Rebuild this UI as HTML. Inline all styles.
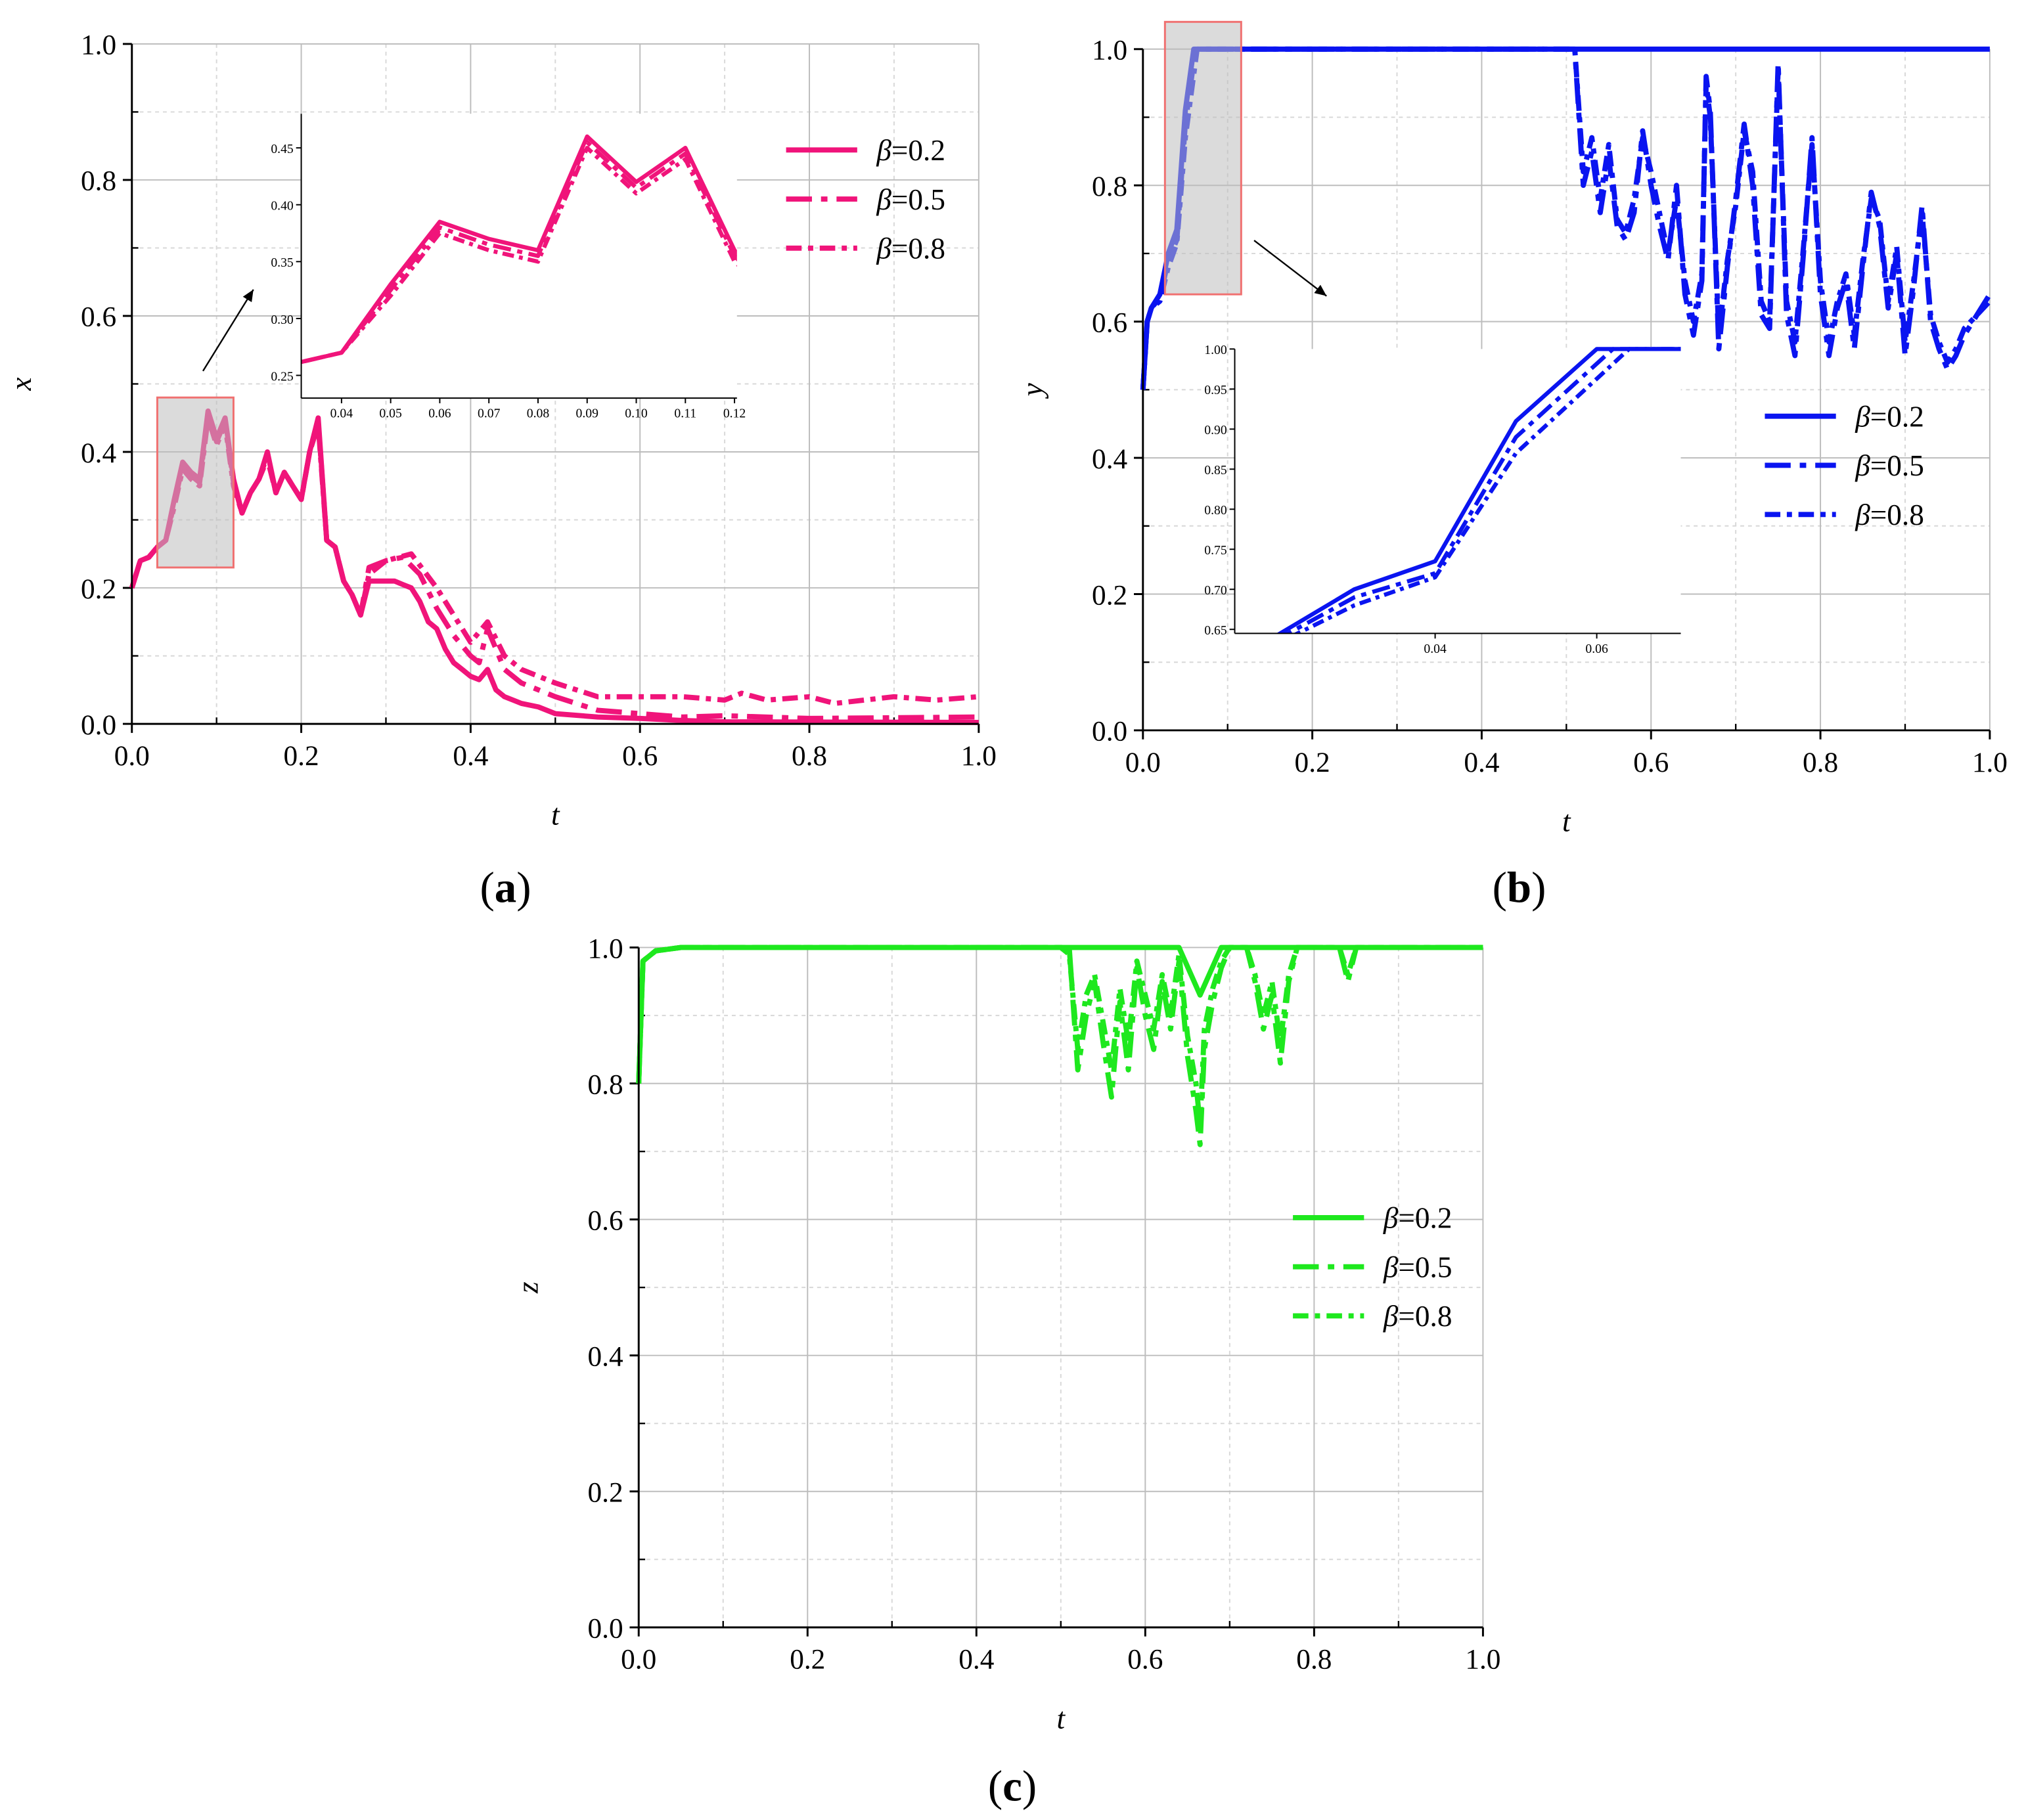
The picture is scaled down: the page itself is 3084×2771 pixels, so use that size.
<!DOCTYPE html>
<html><head><meta charset="utf-8">
<style>html,body{margin:0;padding:0;background:#fff}svg{display:block}text{font-family:"Liberation Serif",serif}</style></head>
<body>
<svg id="fig" width="3084" height="2771" viewBox="0 0 1567 1408" preserveAspectRatio="none" xmlns="http://www.w3.org/2000/svg" font-family="'Liberation Serif', serif"></svg>
<script>
// ---- data ----
const xT02=[0,0.01,0.02,0.03,0.04,0.05,0.06,0.07,0.08,0.09,0.10,0.11,0.12,0.13,0.14,0.15,0.16,0.17,0.18,0.19,0.20,0.21,0.22,0.23,0.24,0.25,0.26,0.27,0.28,0.29,0.30,0.31,0.32,0.33,0.34,0.35,0.36,0.37,0.38,0.39,0.40,0.41,0.42,0.43,0.44,0.45,0.46,0.48,0.50,0.55,0.60,0.65,0.70,1.0];
const xV02=[0.2,0.24,0.245,0.26,0.27,0.33,0.385,0.37,0.36,0.46,0.42,0.45,0.36,0.31,0.34,0.36,0.40,0.34,0.37,0.35,0.33,0.40,0.45,0.27,0.26,0.21,0.19,0.16,0.21,0.21,0.21,0.21,0.205,0.20,0.18,0.15,0.14,0.11,0.09,0.08,0.07,0.065,0.08,0.05,0.04,0.035,0.03,0.025,0.015,0.01,0.008,0.005,0.003,0.002];
const xT05=[0,0.01,0.02,0.03,0.04,0.05,0.06,0.07,0.08,0.09,0.10,0.11,0.12,0.13,0.14,0.15,0.16,0.17,0.18,0.19,0.20,0.21,0.22,0.23,0.24,0.25,0.26,0.27,0.28,0.30,0.32,0.34,0.36,0.38,0.40,0.41,0.42,0.44,0.46,0.50,0.55,0.60,0.65,0.70,0.80,1.0];
const xV05=[0.2,0.24,0.245,0.26,0.27,0.325,0.38,0.365,0.355,0.455,0.415,0.445,0.355,0.31,0.34,0.36,0.395,0.34,0.37,0.35,0.33,0.40,0.445,0.27,0.26,0.21,0.19,0.16,0.23,0.24,0.245,0.22,0.17,0.13,0.10,0.09,0.14,0.08,0.06,0.04,0.02,0.015,0.01,0.012,0.008,0.01];
const xT08=[0,0.01,0.02,0.03,0.04,0.05,0.06,0.07,0.08,0.09,0.10,0.11,0.12,0.13,0.14,0.15,0.16,0.17,0.18,0.19,0.20,0.21,0.22,0.23,0.24,0.25,0.26,0.27,0.28,0.30,0.33,0.36,0.38,0.40,0.42,0.44,0.46,0.50,0.55,0.60,0.65,0.70,0.72,0.75,0.80,0.83,0.90,0.95,1.0];
const xV08=[0.2,0.24,0.245,0.26,0.27,0.32,0.375,0.36,0.35,0.45,0.41,0.44,0.35,0.31,0.34,0.36,0.39,0.34,0.37,0.35,0.33,0.40,0.44,0.27,0.26,0.21,0.19,0.16,0.22,0.24,0.25,0.20,0.16,0.12,0.15,0.10,0.08,0.06,0.04,0.04,0.04,0.035,0.045,0.035,0.04,0.03,0.04,0.035,0.04];

const yT02=[0,0.005,0.01,0.02,0.03,0.04,0.05,0.06,1.0];
const yV02=[0.5,0.6,0.62,0.64,0.70,0.735,0.91,1.0,1.0];
const yT05=[0,0.005,0.01,0.02,0.03,0.04,0.05,0.062,0.51,0.52,0.53,0.54,0.55,0.56,0.57,0.58,0.59,0.60,0.61,0.62,0.63,0.64,0.65,0.66,0.665,0.67,0.68,0.69,0.70,0.71,0.72,0.73,0.74,0.75,0.76,0.77,0.78,0.79,0.80,0.81,0.82,0.83,0.84,0.85,0.86,0.87,0.88,0.89,0.90,0.91,0.92,0.93,0.94,0.95,0.96,0.97,1.0];
const yV05=[0.5,0.6,0.62,0.635,0.69,0.72,0.89,1.0,1.0,0.80,0.85,0.76,0.84,0.74,0.72,0.76,0.88,0.80,0.74,0.69,0.80,0.64,0.58,0.66,0.96,0.91,0.56,0.68,0.78,0.89,0.80,0.61,0.59,0.98,0.61,0.55,0.70,0.87,0.64,0.55,0.62,0.66,0.56,0.68,0.79,0.74,0.62,0.70,0.55,0.65,0.77,0.60,0.56,0.53,0.55,0.58,0.64];
const yT08=[0,0.005,0.01,0.02,0.03,0.04,0.05,0.064,0.51,0.52,0.53,0.54,0.55,0.56,0.57,0.58,0.59,0.60,0.61,0.62,0.63,0.64,0.65,0.66,0.665,0.67,0.68,0.69,0.70,0.71,0.72,0.73,0.74,0.75,0.76,0.77,0.78,0.79,0.80,0.81,0.82,0.83,0.84,0.85,0.86,0.87,0.88,0.89,0.90,0.91,0.92,0.93,0.94,0.95,0.96,0.97,1.0];
const yV08=[0.5,0.6,0.62,0.63,0.68,0.715,0.87,1.0,1.0,0.82,0.87,0.78,0.86,0.75,0.73,0.78,0.87,0.82,0.76,0.70,0.78,0.66,0.60,0.67,0.95,0.90,0.58,0.69,0.77,0.88,0.82,0.63,0.60,0.97,0.63,0.57,0.71,0.86,0.66,0.57,0.63,0.67,0.58,0.69,0.78,0.75,0.63,0.71,0.57,0.66,0.76,0.61,0.57,0.54,0.56,0.59,0.63];

const zT02=[0,0.005,0.02,0.05,0.64,0.665,0.69,1.0];
const zV02=[0.8,0.98,0.995,1.0,1.0,0.93,1.0,1.0];
const zT05=[0,0.005,0.02,0.05,0.50,0.51,0.52,0.53,0.54,0.55,0.56,0.57,0.58,0.59,0.60,0.61,0.62,0.63,0.64,0.65,0.66,0.665,0.67,0.68,0.69,0.70,0.72,0.73,0.74,0.75,0.76,0.77,0.78,0.83,0.84,0.85,1.0];
const zV05=[0.8,0.98,0.995,1.0,1.0,1.0,0.82,0.90,0.95,0.86,0.78,0.92,0.82,0.97,0.90,0.85,0.95,0.88,0.98,0.84,0.76,0.71,0.85,0.92,0.97,1.0,1.0,0.95,0.88,0.93,0.83,0.95,1.0,1.0,0.95,1.0,1.0];
const zT08=[0,0.005,0.02,0.05,0.50,0.51,0.52,0.53,0.54,0.55,0.56,0.57,0.58,0.59,0.60,0.61,0.62,0.63,0.64,0.65,0.66,0.665,0.67,0.68,0.69,0.70,0.72,0.73,0.74,0.75,0.76,0.77,0.78,0.83,0.84,0.85,1.0];
const zV08=[0.8,0.98,0.995,1.0,1.0,0.99,0.85,0.93,0.96,0.89,0.82,0.94,0.86,0.98,0.93,0.88,0.96,0.90,0.99,0.87,0.80,0.74,0.88,0.94,0.98,1.0,1.0,0.96,0.90,0.95,0.86,0.96,1.0,1.0,0.96,1.0,1.0];

const mainTicks=[0,0.2,0.4,0.6,0.8,1.0];
const mainTickLabels=["0.0","0.2","0.4","0.6","0.8","1.0"];
const insetAX=[0.04,0.05,0.06,0.07,0.08,0.09,0.10,0.11,0.12];
const insetAY=[0.25,0.30,0.35,0.40,0.45];
const insetBX=[0.04,0.06];
const insetBY=[0.65,0.70,0.75,0.80,0.85,0.90,0.95,1.00];
const legendLabels=["0.2","0.5","0.8"];

const NS="http://www.w3.org/2000/svg";
const fig=document.getElementById('fig');
function mk(tag,attrs,parent){const e=document.createElementNS(NS,tag);for(const k in attrs)e.setAttribute(k,attrs[k]);(parent||fig).appendChild(e);return e;}
const dashes=[null,"20,7,5,7","12,5,4,5"];

function panel(p){
  const g=mk('g',{});
  
  
  const sx=v=>p.x0+(v-0)*(p.x1-p.x0);
  const sy=v=>p.y0-(v-0)*(p.y0-p.y1);
  for(let i=1;i<10;i+=2){const v=i/10;
    mk('line',{x1:sx(v),x2:sx(v),y1:p.y1,y2:p.y0,stroke:'#d8d8d8','stroke-dasharray':'3,3','stroke-width':1},g);
    mk('line',{x1:p.x0,x2:p.x1,y1:sy(v),y2:sy(v),stroke:'#d8d8d8','stroke-dasharray':'3,3','stroke-width':1},g);}
  mainTicks.forEach((v,i)=>{
    if(i>0){mk('line',{x1:sx(v),x2:sx(v),y1:p.y1,y2:p.y0,stroke:'#bdbdbd','stroke-width':1},g);
    mk('line',{x1:p.x0,x2:p.x1,y1:sy(v),y2:sy(v),stroke:'#bdbdbd','stroke-width':1},g);}
    mk('line',{x1:sx(v),x2:sx(v),y1:p.y0,y2:p.y0+7,stroke:'#000','stroke-width':1.5},g);
    mk('line',{x1:p.x0,x2:p.x0-7,y1:sy(v),y2:sy(v),stroke:'#000','stroke-width':1.5},g);
    const tx=mk('text',{x:sx(v),y:p.y0+32,'font-size':22,'text-anchor':'middle'},g);tx.textContent=mainTickLabels[i];
    
    const ty=mk('text',{x:p.x0-12,y:sy(v)+8,'font-size':22,'text-anchor':'end'},g);ty.textContent=mainTickLabels[i];
    
  });
  for(let i=1;i<10;i+=2){const v=i/10;
    mk('line',{x1:sx(v),x2:sx(v),y1:p.y0,y2:p.y0-5,stroke:'#000','stroke-width':1.2},g);
    mk('line',{x1:p.x0,x2:p.x0+5,y1:sy(v),y2:sy(v),stroke:'#000','stroke-width':1.2},g);}
  p.series.forEach((s,i)=>{
    const d=s[0].map((t,j)=>(j?'L':'M')+sx(t).toFixed(1)+','+sy(s[1][j]).toFixed(1)).join('');
    const pa=mk('path',{d:d,fill:'none',stroke:p.color,'stroke-width':4,'stroke-linejoin':'round'},g);
    if(dashes[i])pa.setAttribute('stroke-dasharray',dashes[i]);
    
    
  });
  mk('line',{x1:p.x0,x2:p.x1,y1:p.y0,y2:p.y0,stroke:'#000','stroke-width':1.5},g);
  mk('line',{x1:p.x0,x2:p.x0,y1:p.y0,y2:p.y1,stroke:'#000','stroke-width':1.5},g);
  if(p.box){const b=p.box;
    const r=mk('rect',{x:sx(b[0]),y:sy(b[3]),width:sx(b[1])-sx(b[0]),height:sy(b[2])-sy(b[3]),fill:'rgba(190,190,190,0.55)',stroke:'#f07070','stroke-width':1.5},g);
    
    mk('line',{x1:p.arrow[0],y1:p.arrow[1],x2:p.arrow[2],y2:p.arrow[3],stroke:'#000','stroke-width':1.2},g);
    const a=p.arrow,ang=Math.atan2(a[3]-a[1],a[2]-a[0]);
    const h=9,w=4;
    const px=a[2]-h*Math.cos(ang),py=a[3]-h*Math.sin(ang);
    mk('polygon',{points:`${a[2]},${a[3]} ${px+w*Math.sin(ang)},${py-w*Math.cos(ang)} ${px-w*Math.sin(ang)},${py+w*Math.cos(ang)}`,fill:'#000'},g);
  }
  if(p.inset){const q=p.inset;
    const ig=mk('g',{},g);
    mk('rect',{x:q.L,y:q.T,width:q.R-q.L,height:q.B-q.T,fill:'#fff'},ig);
    const ix=v=>q.L+(v-q.xmin)/(q.xmax-q.xmin)*(q.R-q.L);
    const iy=v=>q.B-(v-q.ymin)/(q.ymax-q.ymin)*(q.B-q.T);
    const cp=mk('clipPath',{id:'clip'+p.name},ig);mk('rect',{x:q.L,y:q.T-2,width:q.R-q.L,height:q.B-q.T+2},cp);
    const sg=mk('g',{'clip-path':'url(#clip'+p.name+')'},ig);
    p.series.forEach((s,i)=>{
      const d=s[0].map((t,j)=>(j?'L':'M')+ix(t).toFixed(1)+','+iy(s[1][j]).toFixed(1)).join('');
      const pa=mk('path',{d:d,fill:'none',stroke:p.color,'stroke-width':3.2,'stroke-linejoin':'round'},sg);
      if(dashes[i])pa.setAttribute('stroke-dasharray',i==1?'14,5,4,5':'9,4,3,4');
    });
    mk('line',{x1:q.L,x2:q.R,y1:q.B,y2:q.B,stroke:'#000','stroke-width':1},ig);
    mk('line',{x1:q.L,x2:q.L,y1:q.B,y2:q.T,stroke:'#000','stroke-width':1},ig);
    q.xt.forEach(v=>{mk('line',{x1:ix(v),x2:ix(v),y1:q.B,y2:q.B+4,stroke:'#000'},ig);
      const t=mk('text',{x:ix(v),y:q.B+15,'font-size':10,'text-anchor':'middle'},ig);t.textContent=v.toFixed(2);});
    q.yt.forEach(v=>{mk('line',{x1:q.L,x2:q.L-4,y1:iy(v),y2:iy(v),stroke:'#000'},ig);
      const t=mk('text',{x:q.L-6,y:iy(v)+4,'font-size':10,'text-anchor':'end'},ig);t.textContent=v.toFixed(2);});
  }
  const lg=mk('g',{},g);
  legendLabels.forEach((l,i)=>{
    const y=p.leg[1]+i*38;
    const ln=mk('line',{x1:p.leg[0],x2:p.leg[0]+55,y1:y,y2:y,stroke:p.color,'stroke-width':4},lg);
    if(dashes[i])ln.setAttribute('stroke-dasharray',dashes[i]);
    const t=mk('text',{x:p.leg[0]+70,y:y+8,'font-size':23},lg);
    
    t.innerHTML='<tspan font-style="italic">β</tspan>=' + l;
  });
  const xl=mk('text',{x:(p.x0+p.x1)/2,y:p.y0+78,'font-size':23,'font-style':'italic','text-anchor':'middle'},g);xl.textContent='t';
  
  const yl=mk('text',{x:p.x0-78,y:(p.y0+p.y1)/2,'font-size':23,'font-style':'italic','text-anchor':'middle',transform:`rotate(-90 ${p.x0-78} ${(p.y0+p.y1)/2})`},g);yl.textContent=p.ylab;
  
  const pl=mk('text',{x:p.cap[0],y:p.cap[1],'font-size':34,'text-anchor':'middle'},g);
  pl.innerHTML='(<tspan font-weight="bold">'+p.capL+'</tspan>)';
  
}

panel({name:'panel-a',x0:102,x1:757,y0:560,y1:34,color:'#f0147a',ylab:'x',
  series:[[xT02,xV02],[xT05,xV05],[xT08,xV08]],leg:[608,116],cap:[391,698],capL:'a',
  box:[0.03,0.12,0.23,0.48],arrow:[157,287,196,224],
  inset:{L:233,R:570,T:88,B:308,xmin:0.0318,xmax:0.1205,ymin:0.23,ymax:0.48,xt:insetAX,yt:insetAY}});
panel({name:'panel-b',x0:884,x1:1539,y0:565,y1:38,color:'#0a14f0',ylab:'y',
  series:[[yT02,yV02],[yT05,yV05],[yT08,yV08]],leg:[1365,322],cap:[1175,698],capL:'b',
  box:[0.026,0.116,0.64,1.04],arrow:[970,186,1026,229],
  inset:{L:955,R:1300,T:270,B:490,xmin:0.0152,xmax:0.0704,ymin:0.645,ymax:1.0,xt:insetBX,yt:insetBY}});
panel({name:'panel-c',x0:494,x1:1147,y0:1259,y1:733,color:'#1ee81e',ylab:'z',
  series:[[zT02,zV02],[zT05,zV05],[zT08,zV08]],leg:[1000,942],cap:[783,1393],capL:'c'});
</script>
</body></html>
